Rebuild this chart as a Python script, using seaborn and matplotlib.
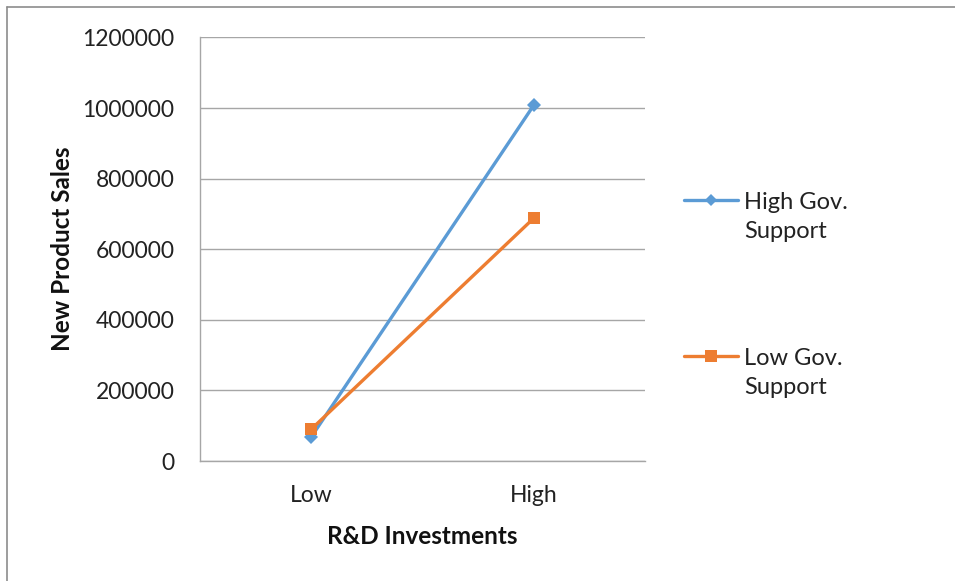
import matplotlib
matplotlib.use("Agg")
import matplotlib.pyplot as plt
from matplotlib.lines import Line2D
from matplotlib.legend_handler import HandlerLine2D
import seaborn as sns
import pandas as pd

# R&D investment levels and new product sales by level of government support
rd_levels = ["Low", "High"]
high_gov_support = [68000, 1008000]
low_gov_support = [90000, 688000]
series_names = ["High Gov.\nSupport", "Low Gov.\nSupport"]
y_ticks = [0, 200000, 400000, 600000, 800000, 1000000, 1200000]

df = pd.DataFrame({
    "R&D Investments": rd_levels * 2,
    "New Product Sales": high_gov_support + low_gov_support,
    "Series": [series_names[0]] * 2 + [series_names[1]] * 2,
})

sns.set_theme(style="white")
plt.rcParams["font.family"] = ["Lato", "DejaVu Sans"]

fig = plt.figure(figsize=(9.55, 5.81), dpi=100)
ax = fig.add_axes([0.2094, 0.2065, 0.466, 0.729])

palette = {series_names[0]: "#5B9BD5", series_names[1]: "#ED7D31"}
markers = {series_names[0]: "D", series_names[1]: "s"}
sizes = {series_names[0]: 7, series_names[1]: 9}

for name in series_names:
    sub = df[df["Series"] == name]
    sns.lineplot(data=sub, x="R&D Investments", y="New Product Sales",
                 color=palette[name], marker=markers[name],
                 markersize=sizes[name], markeredgewidth=0,
                 linewidth=2.4, ax=ax, sort=False, legend=False)

ax.set_xlim(-0.5, 1.5)
ax.set_ylim(0, 1200000)
ax.set_yticks(y_ticks)
ax.set_yticklabels([str(v) for v in y_ticks])
ax.yaxis.grid(True, color="#A6A6A6", linewidth=1.0)
ax.set_axisbelow(True)
for side in ["top", "right"]:
    ax.spines[side].set_visible(False)
ax.spines["left"].set_color("#A6A6A6")
ax.spines["bottom"].set_color("#A6A6A6")
ax.spines["left"].set_linewidth(1.0)
ax.spines["bottom"].set_linewidth(1.0)
ax.tick_params(axis="both", length=0, labelsize=16.5, colors="#222222")
ax.tick_params(axis="y", pad=18.5)
ax.tick_params(axis="x", pad=17)

ax.set_xlabel("R&D Investments", fontsize=17.5, fontweight="bold",
              color="#111111", labelpad=14)
ax.set_ylabel("New Product Sales", fontsize=17.5, fontweight="bold",
              color="#111111", labelpad=6)


class TopLineHandler(HandlerLine2D):
    """Line handle aligned with the first line of a two-line label."""

    def __init__(self, shift, **kw):
        super().__init__(**kw)
        self.shift = shift

    def create_artists(self, legend, orig_handle, xdescent, ydescent,
                       width, height, fontsize, trans):
        arts = super().create_artists(legend, orig_handle, xdescent,
                                      ydescent, width, height, fontsize, trans)
        for a in arts:
            a.set_ydata([y + self.shift for y in a.get_ydata()])
        return arts


handles = [Line2D([0], [0], color=palette[n], marker=markers[n],
                  markersize=sizes[n] - 1, markeredgewidth=0, linewidth=2.4)
           for n in series_names]
hmap = {h: TopLineHandler(12.5) for h in handles}
leg = fig.legend(handles, series_names, loc="upper left",
                 bbox_to_anchor=(0.716, 0.6695), frameon=False,
                 fontsize=17, labelspacing=4.52, handlelength=2.3,
                 handletextpad=0.25, borderpad=0, borderaxespad=0,
                 handler_map=hmap)
for t in leg.get_texts():
    t.set_color("#222222")
    t.set_linespacing(1.45)

# outer chart frame (top and left edges)
fig.add_artist(Line2D([0.0073, 1.0], [0.9879, 0.9879], color="#8C8C8C",
                      linewidth=1.2, transform=fig.transFigure))
fig.add_artist(Line2D([0.0073, 0.0073], [0.0, 0.9879], color="#8C8C8C",
                      linewidth=1.2, transform=fig.transFigure))

fig.savefig("out.png", dpi=100, facecolor="white")
